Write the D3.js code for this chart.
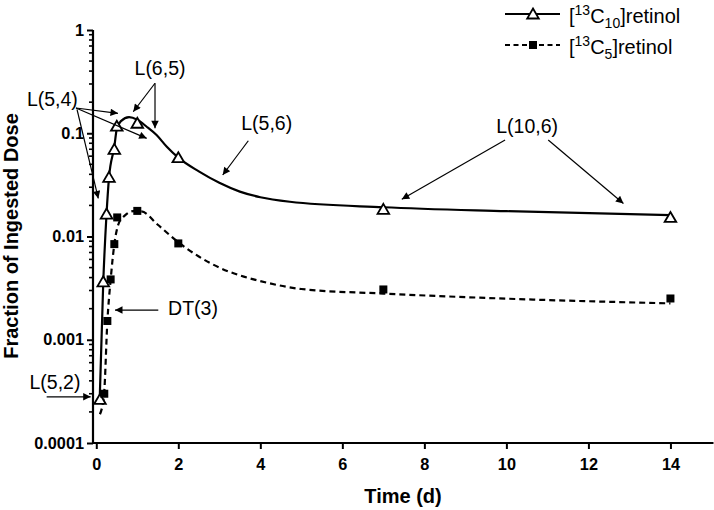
<!DOCTYPE html>
<html><head><meta charset="utf-8">
<script src="https://cdn.jsdelivr.net/npm/d3@7"></script>
<style>
html,body{margin:0;padding:0;background:#fff;}
svg{display:block;}
text{font-family:"Liberation Sans",Arial,sans-serif;fill:#000;}
</style></head>
<body>
<svg id="chart" width="714" height="510"></svg>
<script>
// ---- data ----
const c10Times  = [0.09, 0.17, 0.25, 0.31, 0.44, 0.5, 1.0, 2.0, 7.0, 14.0];
const c10Values = [0.000264, 0.00364, 0.0165, 0.0374, 0.0698, 0.117, 0.125, 0.058, 0.0183, 0.0153];
const c5Times   = [0.195, 0.27, 0.35, 0.44, 0.51, 1.0, 2.0, 7.0, 14.0];
const c5Values  = [0.0003, 0.00152, 0.00384, 0.00844, 0.0153, 0.0177, 0.00857, 0.00307, 0.00251];
// model fits
const c10FitTimes  = [0.083, 0.17, 0.25, 0.31, 0.44, 0.5, 0.6, 0.8, 1.0, 1.23, 1.47, 1.72, 2.0, 2.5, 3.0, 3.5, 4.0, 4.72, 7.0, 10.0, 14.0];
const c10FitValues = [0.00026, 0.0036, 0.0165, 0.037, 0.074, 0.11, 0.131, 0.143, 0.135, 0.1156, 0.096, 0.074, 0.058, 0.0427, 0.0331, 0.0272, 0.024, 0.0217, 0.0192, 0.0176, 0.0161];
const c5FitTimes   = [0.09, 0.19, 0.27, 0.35, 0.44, 0.55, 0.7, 0.9, 1.1, 1.5, 2.0, 2.5, 3.0, 3.5, 4.0, 5.0, 7.0, 10.0, 14.0];
const c5FitValues  = [0.00019, 0.0003, 0.0015, 0.0038, 0.0084, 0.0135, 0.016, 0.0176, 0.0175, 0.013, 0.0088, 0.0064, 0.005, 0.0042, 0.0037, 0.0031, 0.0028, 0.0025, 0.00225];
const xTicks = [0, 2, 4, 6, 8, 10, 12, 14];
const yTicks = [0.0001, 0.001, 0.01, 0.1, 1];
const yTickLabels = ["0.0001", "0.001", "0.01", "0.1", "1"];
const seriesNames = ["C10", "C5"];
// annotations (data coordinates)
const annotationLabels = ["L(5,4)", "L(6,5)", "L(5,6)", "L(10,6)", "DT(3)", "L(5,2)"];
const annotationPos = [[-1.07, 0.213], [1.554, 0.425], [4.156, 0.1247], [10.505, 0.1175], [2.359, 0.00201], [-1.007, 0.000391]];
const arrowsFrom = [[-0.495, 0.1755], [-0.495, 0.1755], [-0.47, 0.17], [1.432, 0.305], [1.432, 0.305], [3.707, 0.0846], [9.968, 0.0859], [11.02, 0.0859], [1.512, 0.00194], [-1.21, 0.00028]];
const arrowsTo   = [[0.529, 0.156], [1.229, 0.0893], [0.049, 0.0234], [0.902, 0.1615], [1.432, 0.1115], [3.083, 0.0394], [7.449, 0.0229], [12.854, 0.0209], [0.456, 0.00194], [-0.137, 0.00028]];

// ---- chart ----
const svg = d3.select("#chart");
const x = d3.scaleLinear().domain([-0.08, 15.05]).range([93, 713.5]);
const y = d3.scaleLog().domain([0.0001, 1]).range([443, 30]);

// arrow marker
svg.append("defs").append("marker")
  .attr("id", "ah").attr("viewBox", "0 0 10 10").attr("refX", 10).attr("refY", 5)
  .attr("markerWidth", 11).attr("markerHeight", 7.5).attr("markerUnits", "userSpaceOnUse")
  .attr("orient", "auto")
  .append("path").attr("d", "M0,0 L10,5 L0,10 Z").attr("fill", "#000");

// axes
const yAxis = d3.axisLeft(y)
  .tickValues(yTicks).tickFormat((d, i) => yTickLabels[i])
  .tickSize(6).tickPadding(3);
const gy = svg.append("g").attr("transform", `translate(${x.range()[0]},0)`).call(yAxis);
gy.select(".domain").attr("stroke-width", 2.2).attr("d", `M0,${y(1)}V${y(0.0001)}`);
gy.selectAll(".tick line").attr("stroke-width", 2);
gy.selectAll(".tick text").attr("font-size", 16.3).attr("font-weight", "bold")
  .attr("font-family", "Liberation Sans, Arial, sans-serif");
// minor ticks
const minor = [];
for (let e = -4; e < 0; e++) for (let m = 2; m <= 9; m++) minor.push(m * Math.pow(10, e));
gy.selectAll(".minor").data(minor).enter().append("line")
  .attr("x1", -4).attr("x2", 0).attr("y1", d => y(d)).attr("y2", d => y(d))
  .attr("stroke", "#000").attr("stroke-width", 1.6);

const xAxis = d3.axisBottom(x).tickValues(xTicks).tickFormat(d3.format("d")).tickSize(6).tickPadding(9);
const gx = svg.append("g").attr("transform", `translate(0,${y(0.0001)})`).call(xAxis);
gx.select(".domain").attr("stroke-width", 2.2).attr("d", `M${x.range()[0]},0H${x.range()[1]}`);
gx.selectAll(".tick line").attr("stroke-width", 2);
gx.selectAll(".tick text").attr("font-size", 16.3).attr("font-weight", "bold")
  .attr("font-family", "Liberation Sans, Arial, sans-serif");

// axis titles
svg.append("text").attr("x", 403).attr("y", 503)
  .attr("text-anchor", "middle").attr("font-size", 20).attr("font-weight", "bold").text("Time (d)");
svg.append("text").attr("transform", `translate(17.5,236) rotate(-90)`)
  .attr("text-anchor", "middle").attr("font-size", 20).attr("font-weight", "bold")
  .text("Fraction of Ingested Dose");

// fitted curves
const line = d3.line().x(d => x(d[0])).y(d => y(d[1])).curve(d3.curveMonotoneX);
svg.append("path").datum(c10FitTimes.map((t, i) => [t, c10FitValues[i]]))
  .attr("d", line).attr("fill", "none").attr("stroke", "#000").attr("stroke-width", 2.2);
svg.append("path").datum(c5FitTimes.map((t, i) => [t, c5FitValues[i]]))
  .attr("d", line).attr("fill", "none").attr("stroke", "#000").attr("stroke-width", 2.2)
  .attr("stroke-dasharray", "6,4");

// markers
const triPath = "M0,-5.5 L5.8,4.5 L-5.8,4.5 Z";
svg.selectAll(".tri").data(c10Times.map((t, i) => [t, c10Values[i]])).enter().append("path")
  .attr("transform", d => `translate(${x(d[0])},${y(d[1])})`)
  .attr("d", triPath).attr("fill", "#fff").attr("stroke", "#000").attr("stroke-width", 1.8);
svg.selectAll(".sq").data(c5Times.map((t, i) => [t, c5Values[i]])).enter().append("rect")
  .attr("x", d => x(d[0]) - 4).attr("y", d => y(d[1]) - 4).attr("width", 8).attr("height", 8)
  .attr("fill", "#000");

// annotations
svg.selectAll(".ann").data(annotationLabels).enter().append("text")
  .attr("x", (d, i) => x(annotationPos[i][0])).attr("y", (d, i) => y(annotationPos[i][1]))
  .attr("dy", "0.35em").attr("text-anchor", "middle").attr("font-size", 19.5).text(d => d);
svg.selectAll(".arr").data(arrowsFrom).enter().append("line")
  .attr("x1", d => x(d[0])).attr("y1", d => y(d[1]))
  .attr("x2", (d, i) => x(arrowsTo[i][0])).attr("y2", (d, i) => y(arrowsTo[i][1]))
  .attr("stroke", "#000").attr("stroke-width", 1.2).attr("marker-end", "url(#ah)");

// legend
const leg = svg.append("g");
const legY = [14, 45];
seriesNames.forEach((s, i) => {
  const g = leg.append("g").attr("transform", `translate(0,${legY[i]})`);
  g.append("line").attr("x1", 505).attr("x2", 560).attr("y1", 0).attr("y2", 0)
    .attr("stroke", "#000").attr("stroke-width", 2)
    .attr("stroke-dasharray", i === 1 ? "5,3.5" : null);
  if (i === 0) g.append("path").attr("transform", "translate(533,0)").attr("d", triPath)
    .attr("fill", "#fff").attr("stroke", "#000").attr("stroke-width", 1.8);
  else g.append("rect").attr("x", 529).attr("y", -4).attr("width", 8).attr("height", 8).attr("fill", "#000");
  const t = g.append("text").attr("x", 569).attr("y", 8.7).attr("font-size", 20);
  t.append("tspan").text("[");
  t.append("tspan").attr("font-size", 14).attr("dy", -7.5).text("13");
  t.append("tspan").attr("dy", 7.5).text("C");
  t.append("tspan").attr("font-size", 14).attr("dy", 5).text(i === 0 ? "10" : "5");
  t.append("tspan").attr("dy", -5).text("]retinol");
});
</script>
</body></html>
